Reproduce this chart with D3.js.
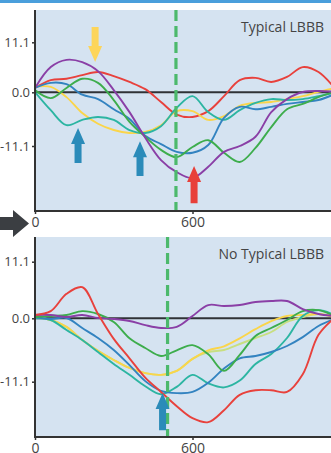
<!DOCTYPE html>
<html><head><meta charset="utf-8">
<script src="https://cdn.jsdelivr.net/npm/d3@7"></script>
<style>html,body{margin:0;padding:0;background:#fff;overflow:hidden}svg{display:block}</style>
</head><body>
<svg id="c" width="331" height="453"></svg>
<script>
// ---- data ----
const timeMs = [0,60,120,180,240,300,360,420,480,540,600,660,720,780,840,900,960,1020,1080,1140];
const xTicks = [0, 600, 1200];
const yTickValues = [11.1, 0.0, -11.1];
const yTickLabels = ["11.1", "0.0", "-11.1"];

// Typical LBBB
const topRed    = [0.96,2.7,3.0,3.8,4.5,3.6,2.3,0.7,-2.0,-4.6,-5.1,-3.9,-0.8,2.7,3.2,2.3,3.4,5.6,4.5,1.0];
const topPurple = [0.96,5.6,7.2,6.7,4.7,0.5,-4.1,-9.4,-14.0,-16.5,-17.7,-15.4,-12.3,-11.1,-9.2,-4.1,-1.4,0.06,0.3,0.1];
const topGreen  = [0.5,-1.2,0.96,3.0,2.1,-1.6,-6.1,-9.2,-11.9,-13.4,-11.3,-9.9,-12.5,-14.4,-11.5,-7.2,-3.5,-2.4,-1.0,0.1];
const topBlue   = [0.96,2.1,1.8,-0.5,-1.4,-3.5,-5.5,-9.0,-10.7,-12.3,-12.5,-10.9,-5.3,-3.0,-3.5,-3.0,-2.4,-2.0,-1.6,-0.4];
const topYellow = [1.2,1.2,-1.0,-4.3,-6.5,-7.8,-8.4,-8.2,-6.8,-3.9,-3.9,-5.7,-4.9,-2.8,-2.2,-2.0,-1.4,-0.8,0.1,0.9];
const topTeal   = [0.06,-3.7,-6.8,-5.7,-5.1,-5.7,-7.8,-8.4,-7.0,-3.2,-0.8,-4.1,-5.7,-3.7,-2.2,-1.4,-1.6,-1.4,-0.8,-0.1];

// No Typical LBBB
const botRed    = [0.65,1.4,4.8,6.1,0.84,-3.6,-7.0,-10.4,-12.9,-15.4,-17.5,-18.2,-16.1,-13.4,-12.6,-12.6,-12.9,-9.8,-2.9,0.05];
const botPurple = [0.65,0.65,0.25,0.65,0.06,-0.12,-0.47,-1.2,-1.7,-1.5,0.45,2.6,2.4,2.6,3.2,3.4,3.4,1.8,0.84,0.45];
const botGreen  = [0.25,0.45,0.65,1.4,0.84,-0.65,-3.5,-5.2,-6.6,-5.6,-4.7,-6.3,-9.2,-6.4,-3.1,-1.7,-0.3,1.4,1.6,0.45];
const botLime   = [0.25,-0.3,-1.5,-3.8,-5.7,-7.3,-8.7,-9.6,-9.9,-9.2,-7.1,-5.9,-5.55,-4.5,-3.45,-2.4,-0.65,0.25,0.84,0.25];
const botYellow = [0.25,-0.3,-1.5,-3.8,-5.7,-7.3,-8.7,-9.6,-9.9,-9.2,-7.1,-5.6,-4.9,-3.5,-1.9,-0.5,0.45,0.65,0.84,0.25];
const botBlue   = [0.25,-0.12,0.06,-1.7,-3.45,-5.55,-8.2,-11.0,-12.7,-13.1,-12.9,-11.3,-8.8,-7.0,-6.6,-5.9,-4.85,-3.3,-1.35,-0.12];
const botTeal   = [0.05,-0.3,-2.05,-3.8,-5.9,-8.0,-9.9,-11.9,-13.3,-12.0,-9.9,-11.4,-12.1,-10.9,-8.0,-6.25,-3.45,0.45,1.6,0.65];

const seriesColors = {red:"#e8413c", purple:"#8a3fa6", green:"#3dad4c", blue:"#3383c0", yellow:"#fad54a", teal:"#2cb5a2", lime:"#c8df80"};

// arrows: [ms, tipValue, tailValue, color]
const topArrows = [[229,6.7,14.5,"#fdd55a"],[164,-7.4,-14.6,"#2b8bb9"],[400,-10.1,-17.3,"#2b8bb9"],[606,-15.2,-22.9,"#e8403a"]];
const botArrows = [[486,-13.1,-19.6,"#2b8bb9"]];
const topMarker = 537, botMarker = 505;

// ---- drawing ----
const svg = d3.select("#c");
svg.append("rect").attr("x",0).attr("y",0).attr("width",331).attr("height",3).attr("fill","#4a9fdc");

const x = d3.scaleLinear().domain([0,1200]).range([35,350]);
const FONT = "Open Sans, sans-serif";

function panel(cfg){
  const y = d3.scaleLinear().domain(cfg.yDomain).range(cfg.yRange);
  const g = svg.append("g");
  const top = cfg.yRange[cfg.yRange.length-1], bot = cfg.yRange[0];
  g.append("rect").attr("x",35).attr("y",top).attr("width",300).attr("height",bot-top).attr("fill","#d5e3f1");
  const clipId = "clip"+cfg.id;
  svg.append("clipPath").attr("id",clipId).append("rect").attr("x",35).attr("y",top).attr("width",300).attr("height",bot-top);
  const inner = g.append("g").attr("clip-path","url(#"+clipId+")");
  inner.append("line").attr("x1",35).attr("x2",335).attr("y1",y(0)).attr("y2",y(0)).attr("stroke","#2f3236").attr("stroke-width",2);
  const line = d3.line().x((d,i)=>x(timeMs[i])).y(d=>y(d)).curve(d3.curveCatmullRom.alpha(0.5));
  cfg.series.forEach(s=>{
    inner.append("path").attr("d",line(s[0])).attr("fill","none").attr("stroke",seriesColors[s[1]]).attr("stroke-width",1.9).attr("stroke-linejoin","round");
  });
  inner.append("line").attr("x1",x(cfg.marker)).attr("x2",x(cfg.marker)).attr("y1",top).attr("y2",bot)
    .attr("stroke","#4cb96c").attr("stroke-width",3.2).attr("stroke-dasharray","11,5");
  cfg.arrows.forEach(a=>{
    const cx = x(a[0]), yt = y(a[1]), ys = y(a[2]);
    const dir = ys>yt ? 1 : -1;
    const hl = 16, hw = 7, sw = 3.5;
    const hb = yt + dir*hl;
    const p = d3.path();
    p.moveTo(cx, yt); p.lineTo(cx+hw, hb); p.lineTo(cx+sw, hb); p.lineTo(cx+sw, ys);
    p.lineTo(cx-sw, ys); p.lineTo(cx-sw, hb); p.lineTo(cx-hw, hb); p.closePath();
    inner.append("path").attr("d",p.toString()).attr("fill",a[3]);
  });
  g.append("text").attr("x",324).attr("y",top+22).attr("text-anchor","end")
    .attr("font-family",FONT).attr("font-size",14).attr("fill","#444").text(cfg.title);
  const ya = d3.axisLeft(y).tickValues(yTickValues).tickFormat((d,i)=>yTickLabels[i]).tickSize(3).tickPadding(2);
  const yg = g.append("g").attr("transform","translate(35,0)").call(ya);
  yg.select(".domain").attr("stroke","#333").attr("stroke-width",2).attr("d",`M0,${top}V${bot}`);
  yg.selectAll(".tick line").attr("stroke","#333").attr("stroke-width",1.5);
  yg.selectAll("text").attr("font-family",FONT).attr("font-size",13).attr("fill","#444");
  const xa = d3.axisBottom(x).tickValues(xTicks).tickFormat(d3.format("d")).tickSize(3).tickPadding(3);
  const xg = g.append("g").attr("transform",`translate(0,${bot})`).call(xa);
  xg.select(".domain").attr("stroke","#333").attr("stroke-width",2).attr("d","M34,0H331");
  xg.selectAll(".tick line").attr("stroke","#333").attr("stroke-width",1.5);
  xg.selectAll("text").attr("font-family",FONT).attr("font-size",14).attr("fill","#444");
}

panel({id:"t", title:"Typical LBBB", yDomain:[-24.5,-11.1,0,11.1,18.3], yRange:[211,146,92.3,42.3,10], marker:topMarker, arrows:topArrows,
  series:[[topRed,"red"],[topYellow,"yellow"],[topTeal,"teal"],[topBlue,"blue"],[topGreen,"green"],[topPurple,"purple"]]});
panel({id:"b", title:"No Typical LBBB", yDomain:[-20.8,-11.1,0,11.1,15.9], yRange:[437,381.7,318.3,261.7,237], marker:botMarker, arrows:botArrows,
  series:[[botLime,"lime"],[botYellow,"yellow"],[botTeal,"teal"],[botBlue,"blue"],[botGreen,"green"],[botPurple,"purple"],[botRed,"red"]]});

svg.append("path").attr("d","M0,217H13V210L29,223.5L13,237V230H0Z").attr("fill","#3b3e42");
</script>
</body></html>
